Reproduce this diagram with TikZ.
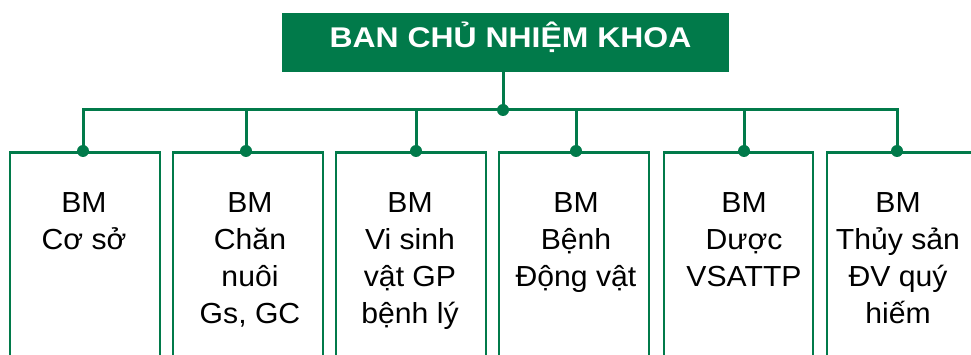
\documentclass[tikz,border=0pt]{standalone}
\usepackage{fontspec}
\newfontfamily\bodyfont{Liberation Sans}[FakeStretch=1.04]
\newfontfamily\titlefont{Liberation Sans}[FakeStretch=1.12]
\definecolor{kgreen}{HTML}{017A4A}
\begin{document}
\begin{tikzpicture}[x=1pt,y=-1pt,
  line/.style={draw=kgreen,line width=3pt},
  unit/.style={draw=kgreen,line width=2.6pt,minimum width=150pt,minimum height=230pt,anchor=north,inner sep=0pt},
  lbl/.style={font=\bodyfont\fontsize{29}{37}\selectfont,align=center,anchor=north,inner sep=0pt},
  dot/.style={circle,fill=kgreen,inner sep=0pt,minimum size=12pt}]
\useasboundingbox (0,0) rectangle (971,355);
\clip (0,0) rectangle (971,355);
\node[fill=kgreen,text=white,minimum width=447pt,minimum height=59pt,inner sep=0pt,
      text height=20pt,text depth=9pt,font=\titlefont\bfseries\fontsize{28.5}{34}\selectfont]
      (top) at (505.5,42.5) {\hspace*{10pt}BAN CHỦ NHIỆM KHOA};
% department boxes
\node[unit] (b1) at (85,151) {};
\node[unit] (b2) at (248,151) {};
\node[unit] (b3) at (411,151) {};
\node[unit] (b4) at (574,151) {};
\node[unit,minimum width=149pt] (b5) at (738.5,151) {};
\node[unit] (b6) at (902,151) {};
% labels
\node[lbl] (t1) at (84,192.5) {BM\\Cơ sở};
\node[lbl] (t2) at (250,192.5) {BM\\Chăn\\nuôi\\Gs, GC};
\node[lbl] (t3) at (410,192.5) {BM\\Vi sinh\\vật GP\\bệnh lý};
\node[lbl] (t4) at (576,192.5) {BM\\Bệnh\\Động vật};
\node[lbl] (t5) at (744,192.5) {BM\\Dược\\VSATTP};
\node[lbl] (t6) at (898,192.5) {BM\\Thủy sản\\ĐV quý\\hiếm};
% connectors
\coordinate (j0) at (503,110);
\coordinate (j1) at (83,110);
\coordinate (j2) at (246,110);
\coordinate (j3) at (416,110);
\coordinate (j4) at (576,110);
\coordinate (j5) at (744,110);
\coordinate (j6) at (897,110);
\node[dot] (p1) at (j1 |- b1.north) {};
\node[dot] (p2) at (j2 |- b2.north) {};
\node[dot] (p3) at (j3 |- b3.north) {};
\node[dot] (p4) at (j4 |- b4.north) {};
\node[dot] (p5) at (j5 |- b5.north) {};
\node[dot] (p6) at (j6 |- b6.north) {};
\node[dot] (p0) at (j0) {};
\draw[line] (j0 |- top.south) -- (p0.center);
\draw[line] (p1.center) -- (j1) -- (j6) -- (p6.center);
\draw[line] (j2) -- (p2.center);
\draw[line] (j3) -- (p3.center);
\draw[line] (j4) -- (p4.center);
\draw[line] (j5) -- (p5.center);
\end{tikzpicture}
\end{document}
